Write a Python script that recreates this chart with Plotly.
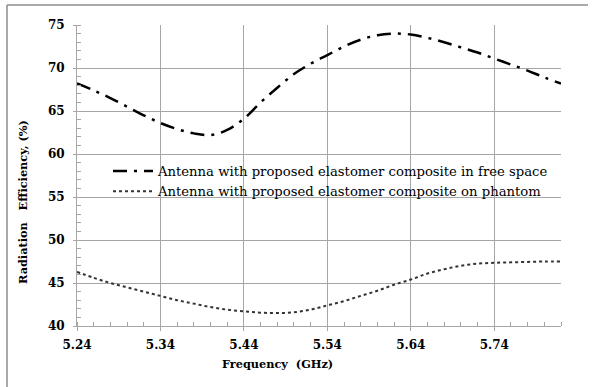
import plotly.graph_objects as go

freq = [5.24, 5.26, 5.28, 5.30, 5.32, 5.34, 5.36, 5.38, 5.40, 5.42, 5.44, 5.46, 5.48, 5.50,
        5.52, 5.54, 5.56, 5.58, 5.60, 5.62, 5.64, 5.66, 5.68, 5.70, 5.72, 5.74, 5.76, 5.78,
        5.80, 5.82]
free_space = [68.2, 67.4, 66.5, 65.5, 64.5, 63.6, 62.9, 62.4, 62.2, 62.8, 64.1, 66.0, 67.7, 69.3,
              70.5, 71.5, 72.5, 73.3, 73.8, 74.0, 73.9, 73.5, 73.0, 72.4, 71.8, 71.1, 70.4, 69.7,
              68.9, 68.2]
phantom = [46.3, 45.6, 45.0, 44.5, 44.0, 43.5, 43.0, 42.6, 42.2, 41.9, 41.7, 41.55, 41.5, 41.6,
           41.9, 42.4, 42.9, 43.5, 44.1, 44.8, 45.4, 46.1, 46.6, 47.0, 47.25, 47.35, 47.4, 47.45,
           47.5, 47.5]
names = ["Antenna with proposed elastomer composite in free space",
         "Antenna with proposed elastomer composite on phantom"]
x_ticks = [5.24, 5.34, 5.44, 5.54, 5.64, 5.74]
y_ticks = [40, 45, 50, 55, 60, 65, 70, 75]

W, H = 595, 387
L, R, T, B = 77, 561, 25, 326


def px(x):
    return (x - L) / (R - L)


def py(y):
    return (B - y) / (B - T)


serif = "DejaVu Serif"

fig = go.Figure()
fig.add_trace(go.Scatter(x=freq, y=free_space, mode="lines", name=names[0],
                         line=dict(color="black", width=2.5, dash="14px,7px,3px,7px", shape="spline")))
fig.add_trace(go.Scatter(x=freq, y=phantom, mode="lines", name=names[1],
                         line=dict(color="#333333", width=2, dash="dot", shape="spline")))

grid = "#a6a6a6"
fig.update_xaxes(range=[5.24, 5.82], tickvals=x_ticks, ticktext=[f"{v:.2f}" for v in x_ticks],
                 showgrid=True, gridcolor=grid, gridwidth=1, zeroline=False,
                 showline=True, linecolor=grid, linewidth=1,
                 ticks="outside", ticklen=4, tickcolor=grid,
                 minor=dict(dtick=0.02, tick0=5.24, ticks="inside", ticklen=4, tickcolor=grid, showgrid=False),
                 ticklabelstandoff=4,
                 tickfont=dict(family=serif, size=12, color="black", weight="bold"))
fig.update_yaxes(range=[40, 75], tickvals=y_ticks,
                 showgrid=True, gridcolor=grid, gridwidth=1, zeroline=False,
                 showline=True, linecolor=grid, linewidth=1,
                 ticks="outside", ticklen=3, tickcolor=grid,
                 minor=dict(dtick=1, ticks="inside", ticklen=4, tickcolor=grid, showgrid=False),
                 ticklabelstandoff=6,
                 tickfont=dict(family=serif, size=12, color="black", weight="bold"))

shapes = [
    dict(type="rect", xref="paper", yref="paper", x0=px(97), x1=px(557), y0=py(204), y1=py(160),
         fillcolor="white", line=dict(width=0), layer="between"),
    dict(type="line", xref="paper", yref="paper", x0=px(7), x1=px(7), y0=py(5), y1=py(390),
         line=dict(color="#8c8c8c", width=1.5)),
    dict(type="line", xref="paper", yref="paper", x0=px(7), x1=px(588), y0=py(5), y1=py(5),
         line=dict(color="#8c8c8c", width=1.5)),
]

annotations = [
    dict(text="<b>Frequency  (GHz)</b>", xref="paper", yref="paper", x=px(277), y=py(364),
         showarrow=False, xanchor="center", yanchor="middle",
         font=dict(family=serif, size=11.3, color="black")),
    dict(text="<b>Radiation   Efficiency, (%)</b>", xref="paper", yref="paper", x=px(23), y=py(202),
         showarrow=False, xanchor="center", yanchor="middle", textangle=-90,
         font=dict(family=serif, size=11.3, color="black")),
]

fig.update_layout(
    width=W, height=H,
    margin=dict(l=L, r=W - R, t=T, b=H - B),
    paper_bgcolor="white", plot_bgcolor="white",
    font=dict(family=serif),
    shapes=shapes, annotations=annotations,
    showlegend=True,
    legend=dict(x=px(108), y=py(156), xanchor="left", yanchor="top",
                bgcolor="rgba(0,0,0,0)", borderwidth=0,
                font=dict(family=serif, size=13.2, color="black"),
                tracegroupgap=0, itemwidth=40),
)

fig.write_html("out.html")
